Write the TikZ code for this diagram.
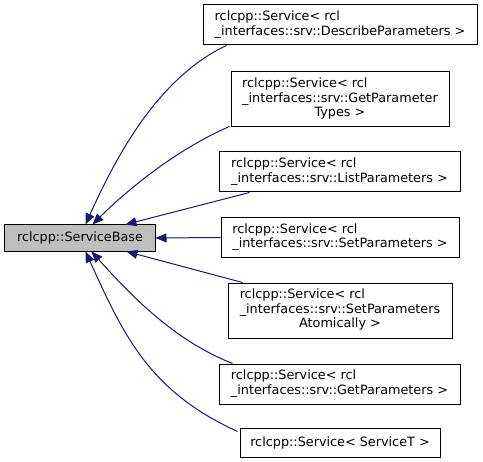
\documentclass[tikz,border=0pt]{standalone}
\usepackage{fontspec}
\setmainfont{DejaVu Sans}
\usetikzlibrary{arrows.meta,calc}
\definecolor{edgeblue}{RGB}{25,25,112}
\definecolor{basegray}{RGB}{191,191,191}
\tikzset{
  box/.style={draw=black, line width=1bp, fill=white, inner sep=0pt,
    font=\fontsize{12.8bp}{14.5bp}\selectfont, align=center},
  edge/.style={draw=edgeblue, line width=1bp,
    -{Triangle[length=11bp,width=9bp,fill=edgeblue]}}
}
\begin{document}
\begin{tikzpicture}[x=1bp,y=-1bp]
\useasboundingbox (0,0) rectangle (483,462);
\node[box, fill=basegray, minimum width=150bp, minimum height=26bp] (base) at (80,238) {rclcpp::ServiceBase};
\node[box, minimum width=274bp, minimum height=40bp] (n1) at (340,25)
  {\begin{tabular}{@{}l@{}}rclcpp::Service< rcl\\\_interfaces::srv::DescribeParameters >\end{tabular}};
\node[box, minimum width=218bp, minimum height=55bp] (n2) at (340,99.5)
  {\begin{tabular}{@{}l@{}}rclcpp::Service< rcl\\\_interfaces::srv::GetParameter\\\multicolumn{1}{@{}c@{}}{Types >}\end{tabular}};
\node[box, minimum width=241bp, minimum height=40bp] (n3) at (339.5,172)
  {\begin{tabular}{@{}l@{}}rclcpp::Service< rcl\\\_interfaces::srv::ListParameters >\end{tabular}};
\node[box, minimum width=238bp, minimum height=39bp] (n4) at (340,237.5)
  {\begin{tabular}{@{}l@{}}rclcpp::Service< rcl\\\_interfaces::srv::SetParameters >\end{tabular}};
\node[box, minimum width=224bp, minimum height=55bp] (n5) at (340,310.5)
  {\begin{tabular}{@{}l@{}}rclcpp::Service< rcl\\\_interfaces::srv::SetParameters\\\multicolumn{1}{@{}c@{}}{Atomically >}\end{tabular}};
\node[box, minimum width=241bp, minimum height=40bp] (n6) at (339.5,384)
  {\begin{tabular}{@{}l@{}}rclcpp::Service< rcl\\\_interfaces::srv::GetParameters >\end{tabular}};
\node[box, minimum width=200bp, minimum height=29bp] (n7) at (340,442.5)
  {rclcpp::Service< ServiceT >};

\coordinate (s1) at ($(n1.south west)+(24,0)$);
\coordinate (t1) at ($(base.north west)+(81,0)$);
\coordinate (s2) at ($(n2.south west)+(-1,-1)$);
\coordinate (t2) at ($(base.north west)+(88,0)$);
\coordinate (s3) at ($(n3.south west)+(31,0)$);
\coordinate (t3) at ($(base.north west)+(121,0)$);
\coordinate (s5) at ($(n5.north west)+(15,0)$);
\coordinate (t5) at ($(base.south west)+(122,0)$);
\coordinate (s6) at ($(n6.north west)+(14,0)$);
\coordinate (t6) at ($(base.south west)+(87,0)$);
\coordinate (s7) at ($(n7.north west)+(-2,4)$);
\coordinate (t7) at ($(base.south west)+(81,0)$);

\draw[edge] (s1) .. controls (157,78) and (115,159) .. (t1);
\draw[edge] (s2) .. controls (175,150) and (125,192) .. (t2);
\draw[edge] (s3) -- (t3);
\draw[edge] (n4.west) -- (base.east);
\draw[edge] (s5) -- (t5);
\draw[edge] (s6) .. controls (176,341) and (135,300) .. (t6);
\draw[edge] (s7) .. controls (149,391) and (124,336) .. (t7);
\end{tikzpicture}
\end{document}
